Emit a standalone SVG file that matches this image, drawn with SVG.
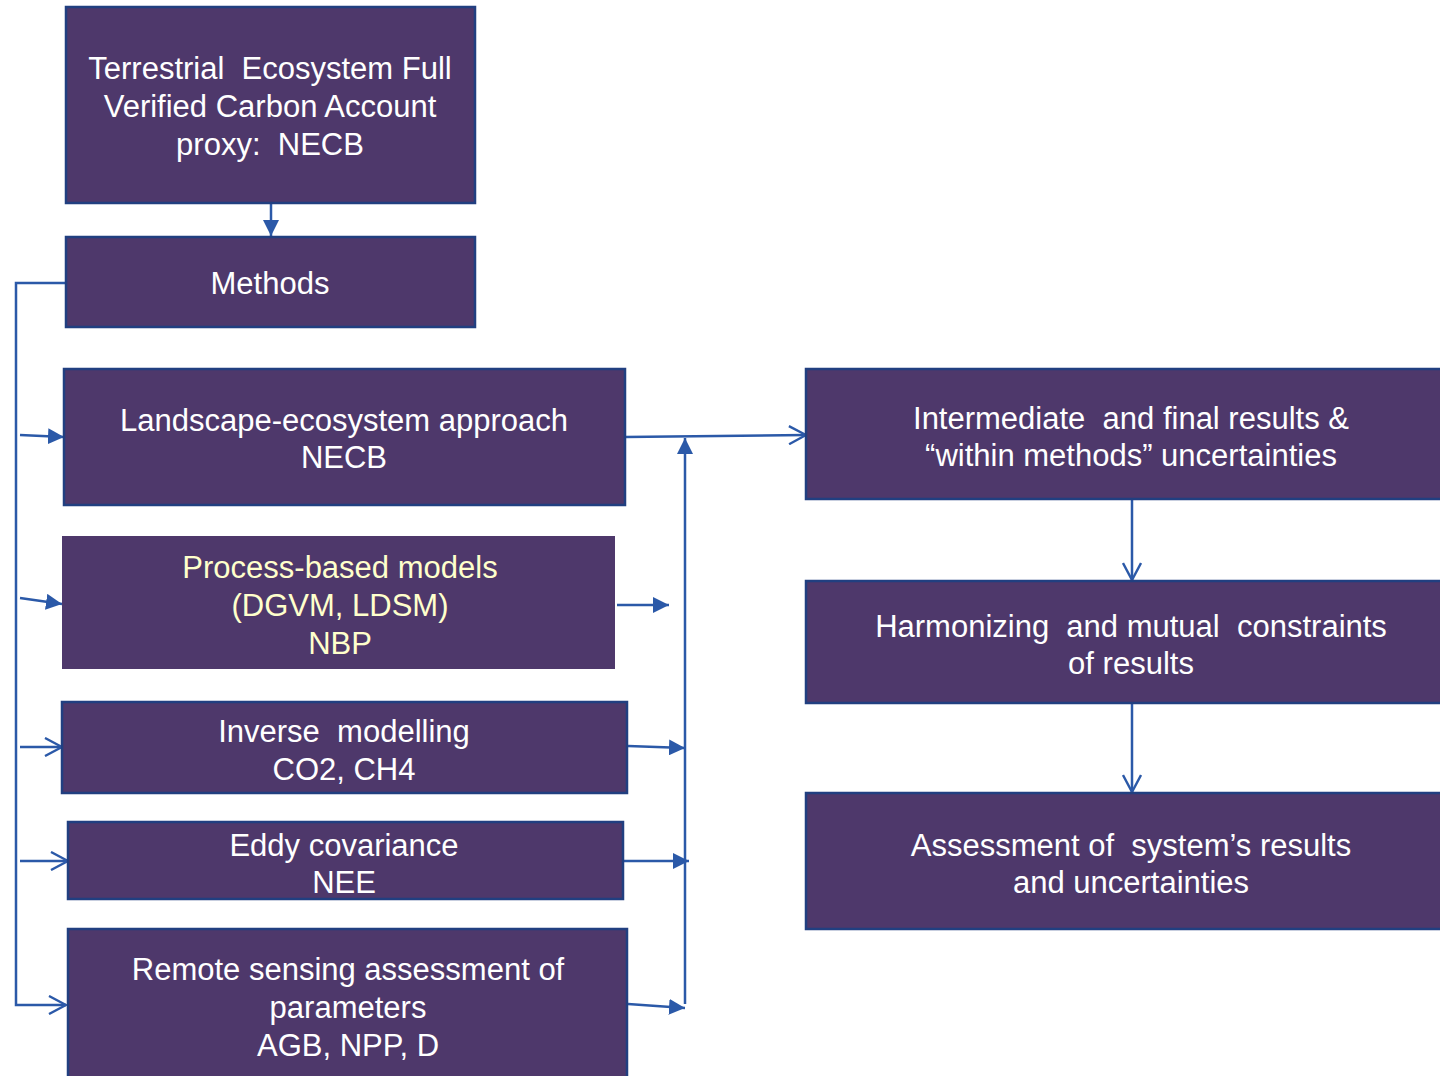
<svg xmlns="http://www.w3.org/2000/svg" width="1440" height="1076" viewBox="0 0 1440 1076">
<defs>
<marker id="fa" viewBox="0 0 10 10" refX="10" refY="5" markerWidth="16" markerHeight="16" markerUnits="userSpaceOnUse" orient="auto"><path d="M0,0 L10,5 L0,10 z" fill="#2B59A8"/></marker>
<marker id="oa" viewBox="0 0 10 10" refX="9.5" refY="5" markerWidth="20" markerHeight="20" markerUnits="userSpaceOnUse" orient="auto"><path d="M1,0.5 L9.5,5 L1,9.5" fill="none" stroke="#2B59A8" stroke-width="1.2"/></marker>
<style>
.box{fill:#4E386B;stroke:#213F80;stroke-width:2.5}
.nb{fill:#4E386B}
.t{font-family:"Liberation Sans",Arial,sans-serif;font-size:31px;fill:#FFFFFF;text-anchor:middle;white-space:pre}
.y{fill:#FFFFCC}
.c{fill:none;stroke:#2B59A8;stroke-width:2.5}
</style>
</defs>
<rect width="1440" height="1076" fill="#FFFFFF"/>
<g id="connectors">
<path class="c" d="M271,203 L271,236" marker-end="url(#fa)"/>
<path class="c" d="M66,283 L16,283 L16,1005 L66,1005" marker-end="url(#oa)"/>
<path class="c" d="M20,435 L64,437" marker-end="url(#fa)"/>
<path class="c" d="M20,598 L62,604" marker-end="url(#fa)"/>
<path class="c" d="M20,747 L62,747" marker-end="url(#oa)"/>
<path class="c" d="M20,861 L68,861" marker-end="url(#oa)"/>
<path class="c" d="M617,605 L669,605" marker-end="url(#fa)"/>
<path class="c" d="M628,746 L685,748" marker-end="url(#fa)"/>
<path class="c" d="M623,861 L689,861" marker-end="url(#fa)"/>
<path class="c" d="M628,1004 L685,1008" marker-end="url(#fa)"/>
<path class="c" d="M685,1004 L685,438" marker-end="url(#fa)"/>
<path class="c" d="M625,437 L806,435" marker-end="url(#oa)"/>
<path class="c" d="M1132,499 L1132,580" marker-end="url(#oa)"/>
<path class="c" d="M1132,703 L1132,792" marker-end="url(#oa)"/>
</g>
<g id="n1"><rect class="box" x="66" y="7" width="409" height="196"/>
<text class="t" x="270" y="79" xml:space="preserve">Terrestrial  Ecosystem Full</text>
<text class="t" x="270" y="117">Verified Carbon Account</text>
<text class="t" x="270" y="155" xml:space="preserve">proxy:  NECB</text></g>
<g id="n2"><rect class="box" x="66" y="237" width="409" height="90"/>
<text class="t" x="270" y="294">Methods</text></g>
<g id="n3"><rect class="box" x="64" y="369" width="561" height="136"/>
<text class="t" x="344" y="431">Landscape-ecosystem approach</text>
<text class="t" x="344" y="468">NECB</text></g>
<g id="n4"><rect class="nb" x="62" y="536" width="553" height="133"/>
<text class="t y" x="340" y="578">Process-based models</text>
<text class="t y" x="340" y="616">(DGVM, LDSM)</text>
<text class="t y" x="340" y="654">NBP</text></g>
<g id="n5"><rect class="box" x="62" y="702" width="565" height="91"/>
<text class="t" x="344" y="742" xml:space="preserve">Inverse  modelling</text>
<text class="t" x="344" y="780">CO2, CH4</text></g>
<g id="n6"><rect class="box" x="68" y="822" width="555" height="77"/>
<text class="t" x="344" y="856">Eddy covariance</text>
<text class="t" x="344" y="893">NEE</text></g>
<g id="n7"><rect class="box" x="68" y="929" width="559" height="160"/>
<text class="t" x="348" y="980">Remote sensing assessment of</text>
<text class="t" x="348" y="1018">parameters</text>
<text class="t" x="348" y="1056">AGB, NPP, D</text></g>
<g id="n8"><rect class="box" x="806" y="369" width="650" height="130"/>
<text class="t" x="1131" y="429" xml:space="preserve">Intermediate  and final results &amp;</text>
<text class="t" x="1131" y="466">“within methods” uncertainties</text></g>
<g id="n9"><rect class="box" x="806" y="581" width="650" height="122"/>
<text class="t" x="1131" y="637" xml:space="preserve">Harmonizing  and mutual  constraints</text>
<text class="t" x="1131" y="674">of results</text></g>
<g id="n10"><rect class="box" x="806" y="793" width="650" height="136"/>
<text class="t" x="1131" y="856" xml:space="preserve">Assessment of  system’s results</text>
<text class="t" x="1131" y="893">and uncertainties</text></g>
</svg>
